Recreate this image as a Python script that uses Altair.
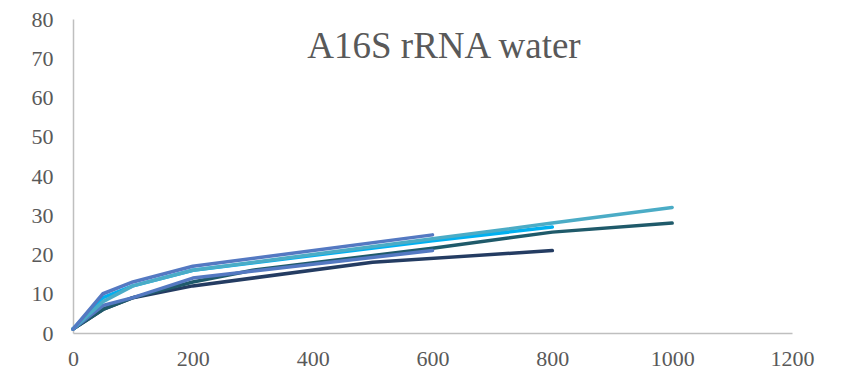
import altair as alt
import pandas as pd

# Series data (x = sample size, y = value)
navy_x = [0, 50, 100, 200, 500, 800]
navy_y = [1, 6, 9, 12, 18, 21]

darkteal_x = [0, 50, 100, 200, 300, 600, 800, 1000]
darkteal_y = [1, 6, 9, 13, 16, 21.6, 25.7, 28]

bluelow_x = [0, 50, 100, 200, 600]
bluelow_y = [1, 7, 9, 14, 21]

cyan_x = [0, 50, 100, 200, 600, 800]
cyan_y = [1, 9, 12, 16, 23.5, 27]

lightteal_x = [0, 50, 100, 200, 600, 800, 1000]
lightteal_y = [1, 8, 12, 16, 24, 28, 32]

bluehigh_x = [0, 50, 100, 200, 600]
bluehigh_y = [1, 10, 13, 17, 25]

series_names = ["s1", "s2", "s3", "s4", "s5", "s6"]
series_colors = ["#243C62", "#1F5A6A", "#5479C2", "#00B0F0", "#4BACC6", "#5479C2"]

x_ticks = [0, 200, 400, 600, 800, 1000, 1200]
y_ticks = [0, 10, 20, 30, 40, 50, 60, 70, 80]

title_text = "A16S rRNA water"

rows = []
for name, xs, ys in zip(
    series_names,
    [navy_x, darkteal_x, bluelow_x, cyan_x, lightteal_x, bluehigh_x],
    [navy_y, darkteal_y, bluelow_y, cyan_y, lightteal_y, bluehigh_y],
):
    for i, (xv, yv) in enumerate(zip(xs, ys)):
        rows.append({"series": name, "x": xv, "y": yv, "i": i})
df = pd.DataFrame(rows)

W, H = 719, 314
FONT = "Liberation Serif"
GREY = "#595959"

lines = alt.Chart(df).mark_line(strokeWidth=3.5, strokeCap="round", strokeJoin="round").encode(
    x=alt.X("x:Q", scale=alt.Scale(domain=[0, 1200], nice=False),
            axis=alt.Axis(values=x_ticks, format="d", title=None, grid=False, ticks=False,
                          domainColor="#BFBFBF", domainWidth=1.5,
                          labelFont=FONT, labelFontSize=22, labelColor=GREY,
                          labelPadding=15, labelFlush=False)),
    y=alt.Y("y:Q", scale=alt.Scale(domain=[0, 80], nice=False),
            axis=alt.Axis(values=y_ticks, format="d", title=None, grid=False, ticks=False,
                          domainColor="#BFBFBF", domainWidth=1.5,
                          labelFont=FONT, labelFontSize=22, labelColor=GREY,
                          labelPadding=20, labelFlush=False)),
    color=alt.Color("series:N", scale=alt.Scale(domain=series_names, range=series_colors), legend=None),
    order="i:Q",
)

title = alt.Chart(pd.DataFrame({"t": [title_text]})).mark_text(
    font=FONT, fontSize=37, color=GREY, align="center", baseline="alphabetic"
).encode(text="t:N", x=alt.value(371), y=alt.value(39))

chart = alt.layer(lines, title).properties(
    width=W, height=H,
    autosize=alt.AutoSizeParams(type="none"),
    padding={"left": 65, "top": 11, "right": 45, "bottom": 41},
).configure_view(stroke=None)

chart.save("out.html", embed_options={"renderer": "svg", "actions": False})
